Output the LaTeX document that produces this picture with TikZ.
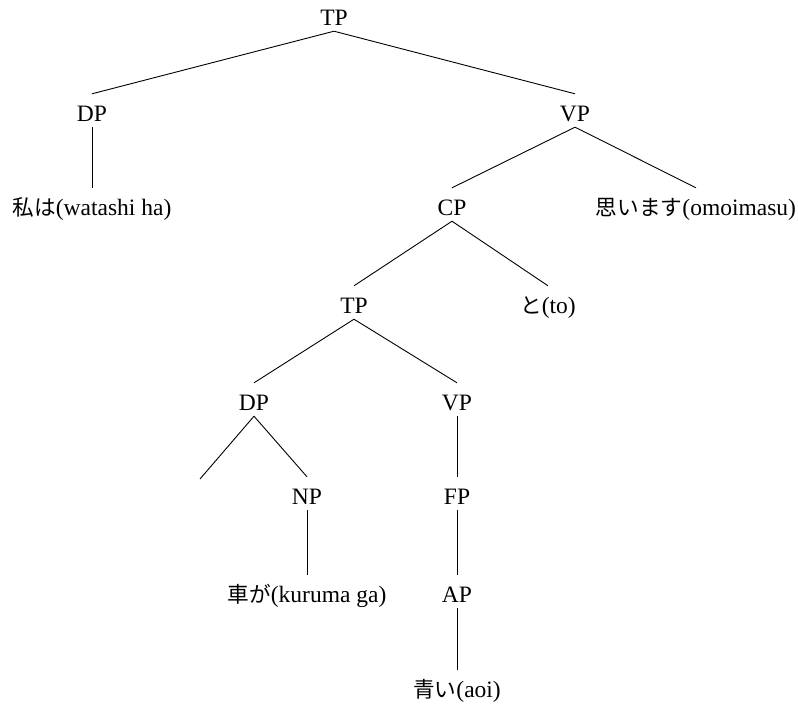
\documentclass[tikz,border=0pt]{standalone}
\usepackage{fontspec}
\setmainfont{Liberation Serif}
\newfontfamily\jp[Scale=0.92]{Noto Sans CJK JP}
\newcommand{\ja}[1]{{\jp #1}}
\begin{document}
\begin{tikzpicture}[x=1pt,y=-1pt,
  cat/.style={anchor=base,inner sep=0pt,text height=27pt,text depth=6pt,
              font=\fontsize{23.5}{27}\selectfont},
  branch/.style={line width=0.9pt}]
\useasboundingbox (0,0) rectangle (798,704);
% level 0
\node[cat] (tp)  at (334,25)  {TP};
% level 1
\node[cat] (dp)  at (92,121)  {DP};
\node[cat] (vp)  at (575,121) {VP};
% level 2
\node[cat] (wa)  at (92,215)  {\ja{私は}(watashi ha)};
\node[cat] (cp)  at (452,215) {CP};
\node[cat] (om)  at (696,215) {\ja{思います}(omoimasu)};
% level 3
\node[cat] (tp2) at (354,313) {TP};
\node[cat] (to)  at (548,313) {\ja{と}(to)};
% level 4
\node[cat] (dp2) at (254,410) {DP};
\node[cat] (vp2) at (457,410) {VP};
% level 5
\coordinate (e)  at (200,479);
\node[cat] (np)  at (307,504) {NP};
\node[cat] (fp)  at (457,504) {FP};
% level 6
\node[cat] (ku)  at (307,602) {\ja{車が}(kuruma ga)};
\node[cat] (ap)  at (457,602) {AP};
% level 7
\node[cat] (ao)  at (457,697) {\ja{青い}(aoi)};

% branches
\draw[branch] (tp.south) -- (dp.north);
\draw[branch] (tp.south) -- (vp.north);
\draw[branch] (dp.south) -- (wa.north);
\draw[branch] (vp.south) -- (cp.north);
\draw[branch] (vp.south) -- (om.north);
\draw[branch] (cp.south) -- (tp2.north);
\draw[branch] (cp.south) -- (to.north);
\draw[branch] (tp2.south) -- (dp2.north);
\draw[branch] (tp2.south) -- (vp2.north);
\draw[branch] (dp2.south) -- (e);
\draw[branch] (dp2.south) -- (np.north);
\draw[branch] (vp2.south) -- (fp.north);
\draw[branch] (np.south) -- (ku.north);
\draw[branch] (fp.south) -- (ap.north);
\draw[branch] (ap.south) -- (ao.north);
\end{tikzpicture}
\end{document}
